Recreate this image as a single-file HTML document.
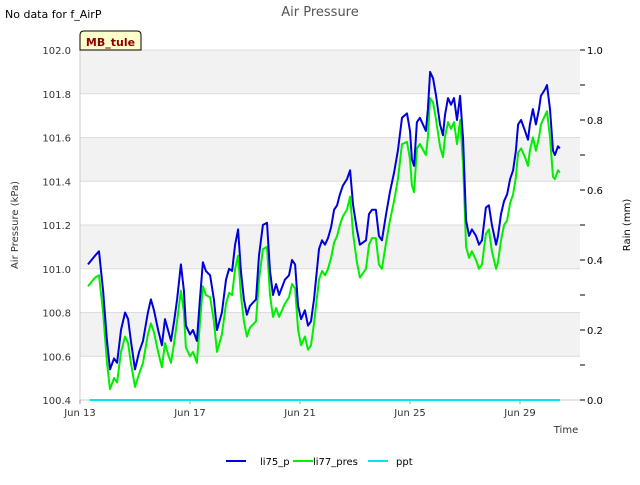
<!DOCTYPE html>
<html><head><meta charset="utf-8"><style>
body{margin:0;background:#fff;font-family:"Liberation Sans","DejaVu Sans",sans-serif;}
svg text{font-family:"DejaVu Sans","Liberation Sans",sans-serif;}
</style></head><body>
<svg id="chart" width="640" height="480" xmlns="http://www.w3.org/2000/svg">
<rect width="640" height="480" fill="#fff"/>
<text x="5" y="18" font-size="11" fill="#000">No data for f_AirP</text>
<text x="320" y="16" font-size="13" fill="#555" text-anchor="middle">Air Pressure</text>
<g id="bands"></g>
<g id="axes"></g>
<g id="series"></g>
<g>
<path d="M80,50 L80,35 Q80,31 84,31 L137,31 Q141,31 141,35 L141,50 Z" fill="#ffffcc" stroke="#000" stroke-width="1"/>
<text x="110.5" y="46" font-size="11" font-weight="bold" fill="#8b0000" text-anchor="middle">MB_tule</text>
</g>
<text transform="translate(18,225) rotate(-90)" font-size="10" fill="#333" text-anchor="middle">Air Pressure (kPa)</text>
<text transform="translate(630,225) rotate(-90)" font-size="10" fill="#000" text-anchor="middle">Rain (mm)</text>
<text x="566" y="433" font-size="10" fill="#333" text-anchor="middle">Time</text>
<g>
<g><line x1="226" y1="461" x2="246" y2="461" stroke="#0000dd" stroke-width="2"/><text x="260" y="465" font-size="10" fill="#000">li75_p</text></g>
<g><line x1="293" y1="461" x2="313" y2="461" stroke="#00ee00" stroke-width="2"/><text x="313" y="465" font-size="10" fill="#000">li77_pres</text></g>
<g><line x1="368" y1="461" x2="388" y2="461" stroke="#00e5ee" stroke-width="2"/><text x="396" y="465" font-size="10" fill="#000">ppt</text></g>
</g>
</svg>
<script>
const days=[0.29,0.55,0.69,0.84,0.98,1.09,1.24,1.35,1.49,1.64,1.75,1.85,2.00,2.15,2.29,2.47,2.58,2.69,2.84,2.98,3.09,3.20,3.31,3.42,3.53,3.67,3.78,3.85,4.00,4.11,4.25,4.36,4.47,4.58,4.73,4.87,4.98,5.16,5.31,5.42,5.53,5.64,5.75,5.85,5.96,6.07,6.18,6.40,6.51,6.65,6.80,6.91,7.02,7.13,7.24,7.45,7.60,7.71,7.82,7.93,8.04,8.18,8.29,8.40,8.51,8.69,8.80,8.91,9.02,9.13,9.24,9.35,9.45,9.56,9.71,9.82,9.93,10.07,10.18,10.40,10.51,10.62,10.76,10.87,10.98,11.13,11.27,11.42,11.56,11.71,11.89,12.00,12.07,12.15,12.25,12.36,12.58,12.65,12.73,12.84,12.95,13.09,13.20,13.27,13.38,13.49,13.60,13.71,13.82,13.93,14.04,14.15,14.25,14.40,14.51,14.62,14.76,14.87,14.98,15.13,15.20,15.31,15.42,15.53,15.64,15.75,15.85,15.93,16.04,16.18,16.29,16.36,16.47,16.58,16.69,16.76,16.91,16.98,17.09,17.20,17.27,17.38,17.45];
const li75=[101.02,101.06,101.08,100.90,100.67,100.54,100.59,100.57,100.72,100.80,100.77,100.67,100.54,100.62,100.67,100.80,100.86,100.81,100.72,100.65,100.77,100.72,100.67,100.76,100.86,101.02,100.90,100.74,100.70,100.72,100.67,100.86,101.03,100.99,100.97,100.86,100.72,100.80,100.95,101.00,100.99,101.11,101.18,100.99,100.86,100.79,100.83,100.86,101.06,101.20,101.21,100.99,100.88,100.93,100.88,100.95,100.97,101.04,101.02,100.83,100.77,100.81,100.74,100.76,100.86,101.09,101.13,101.11,101.14,101.19,101.27,101.29,101.34,101.38,101.41,101.45,101.29,101.18,101.11,101.13,101.25,101.27,101.27,101.15,101.13,101.25,101.35,101.44,101.54,101.69,101.71,101.63,101.50,101.47,101.67,101.69,101.63,101.73,101.90,101.87,101.79,101.66,101.61,101.70,101.78,101.75,101.78,101.68,101.79,101.59,101.22,101.15,101.18,101.15,101.11,101.13,101.28,101.29,101.20,101.11,101.15,101.25,101.31,101.34,101.41,101.45,101.54,101.66,101.68,101.63,101.59,101.66,101.73,101.66,101.73,101.79,101.82,101.84,101.73,101.54,101.52,101.56,101.55];
const li77=[100.92,100.96,100.97,100.80,100.57,100.45,100.50,100.48,100.62,100.69,100.66,100.57,100.46,100.52,100.57,100.70,100.75,100.71,100.62,100.55,100.66,100.61,100.57,100.66,100.76,100.90,100.80,100.64,100.60,100.62,100.57,100.75,100.92,100.88,100.87,100.76,100.62,100.70,100.84,100.89,100.88,101.00,101.06,100.88,100.76,100.69,100.73,100.76,100.95,101.09,101.10,100.88,100.78,100.82,100.78,100.84,100.87,100.93,100.91,100.72,100.65,100.69,100.63,100.65,100.75,100.95,100.99,100.97,101.00,101.05,101.12,101.15,101.20,101.24,101.27,101.33,101.16,101.03,100.96,101.00,101.11,101.14,101.14,101.02,101.00,101.12,101.22,101.31,101.41,101.57,101.58,101.50,101.38,101.35,101.55,101.57,101.52,101.60,101.78,101.76,101.68,101.56,101.51,101.60,101.67,101.64,101.67,101.57,101.68,101.48,101.10,101.05,101.08,101.04,101.00,101.02,101.16,101.18,101.08,101.00,101.03,101.13,101.20,101.22,101.30,101.34,101.42,101.53,101.55,101.51,101.47,101.54,101.60,101.54,101.60,101.66,101.70,101.72,101.60,101.42,101.41,101.45,101.44];
const pptDays=[0.35,17.45];
const pptVals=[0,0];
const xTickLabels=["Jun 13","Jun 17","Jun 21","Jun 25","Jun 29"];
const xTickDays=[0,4,8,12,16];
const yTicks=[100.4,100.6,100.8,101.0,101.2,101.4,101.6,101.8,102.0];
const y2Ticks=[0.0,0.2,0.4,0.6,0.8,1.0];

const L=80,R=580,T=50,B=400;
const xS=d=>L+d*27.5;
const yS=v=>B-(v-100.4)/(1.6)*(B-T);
const y2S=v=>B-v*(B-T);
const NS="http://www.w3.org/2000/svg";
function mk(tag,attrs,parent){const e=document.createElementNS(NS,tag);for(const k in attrs)e.setAttribute(k,attrs[k]);parent.appendChild(e);return e;}
const bands=document.getElementById('bands'),axes=document.getElementById('axes'),series=document.getElementById('series');
mk('rect',{x:L,y:T,width:R-L,height:B-T,fill:'#fff'},bands);
for(let i=1;i<yTicks.length;i+=2){
  const b=mk('rect',{x:L,y:yS(yTicks[i+1]??yTicks[i]),width:R-L,height:yS(yTicks[i])-yS(yTicks[i+1]??yTicks[i]),fill:'#f2f2f2'},bands);
  
  
}
yTicks.forEach(v=>{
  const g=mk('line',{x1:L,x2:R,y1:yS(v),y2:yS(v),stroke:'#dcdcdc','stroke-width':1},bands);
  
  
  const t=mk('text',{x:L-9,y:yS(v)+4,'font-size':10,fill:'#333','text-anchor':'end'},axes);
  t.textContent=v.toFixed(1);
  
  
});
mk('line',{x1:L,x2:L,y1:T,y2:B,stroke:'#ccc'},axes);
mk('line',{x1:L,x2:R,y1:B,y2:B,stroke:'#ccc'},axes);
for(let v=0;v<=1.0001;v+=0.1){mk('line',{x1:R,x2:R+5,y1:y2S(v),y2:y2S(v),stroke:'#000'},axes);}
y2Ticks.forEach(v=>{
  const t=mk('text',{x:R+7,y:y2S(v)+4,'font-size':10,fill:'#000'},axes);
  t.textContent=v.toFixed(1);
  
  
});
xTickDays.forEach((d,i)=>{
  mk('line',{x1:xS(d),x2:xS(d),y1:B,y2:B+4,stroke:'#999'},axes);
  const t=mk('text',{x:xS(d),y:B+16,'font-size':10,fill:'#333','text-anchor':'middle'},axes);
  t.textContent=xTickLabels[i];
  
  
});
function line(ds,vs,ys,color,name){
  const n=Math.min(ds.length,vs.length);
  let p='';for(let i=0;i<n;i++)p+=(i?'L':'M')+xS(ds[i]).toFixed(1)+','+ys(vs[i]).toFixed(1);
  const e=mk('path',{d:p,fill:'none',stroke:color,'stroke-width':2,'stroke-linejoin':'round'},series);
  
  
}
line(pptDays,pptVals,y2S,'#00e5ee','ppt-line');
line(days,li77,yS,'#00ee00','li77-pres-line');
line(days,li75,yS,'#0000dd','li75-p-line');
</script>
</body></html>
